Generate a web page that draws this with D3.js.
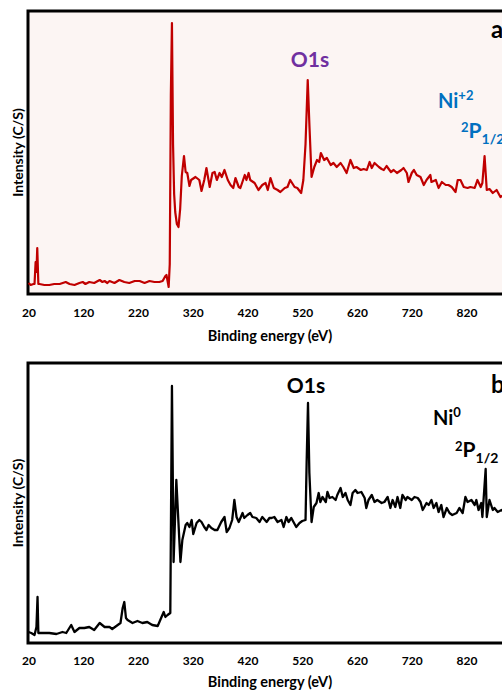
<!DOCTYPE html>
<html>
<head>
<meta charset="utf-8">
<script src="https://cdn.jsdelivr.net/npm/d3@7"></script>
<style>
  html, body { margin: 0; padding: 0; background: #ffffff; }
  svg { display: block; }
</style>
</head>
<body>
<script>
// ---------------- DATA ----------------
const tickValues = [20, 120, 220, 320, 420, 520, 620, 720, 820];
const tickLabels = ["20", "120", "220", "320", "420", "520", "620", "720", "820"];

// Panel a (Ni+2 sample) — binding energy (eV) and intensity (arb. C/S units)
const energyA = [20,24,29,31,33,34.5,36,38,40,49,58,67,77,88,95,104,113,119,124,131,140,150,155,159,164,168,177,186,195,204,214,223,232,241,250,259,265,270,272,276,278,280,282,284,286,288,291,294,297,300,304,307,310,314,317,325,332,336,341,345,351,356,360,364,369,373,378,384,389,394,398,404,407,415,418,422,425,433,440,447,453,457,462,468,475,480,488,493,498,506,511,518,522,526,530,533,537,542,547,551,554,560,565,572,577,583,590,595,601,608,614,619,627,632,638,643,647,652,660,665,669,674,682,687,693,701,705,711,714,720,724,729,736,742,747,754,756,764,769,775,782,787,793,800,804,809,815,822,827,835,840,846,849,853,857,862,868,875,882,888];
const intensityA = [11,9,10,10,32,22,46,10,10,9,9,10,10,12,10,9,11,12,10,12,11,14,12,13,11,13,11,14,12,11,13,13,11,13,12,12,13,18,19,7,30,200,271,150,100,82,70,67,85,118,138,122,121,108,114,117,114,103,114,126,107,121,122,114,121,117,124,114,109,106,116,107,106,119,114,121,114,111,104,109,111,104,116,106,104,102,106,107,114,107,106,101,114,150,214,170,117,127,134,132,141,134,136,129,131,127,131,127,121,134,126,127,124,125,124,132,126,131,127,125,124,128,122,124,121,124,126,121,112,121,124,119,117,109,114,119,112,114,106,112,109,109,107,102,114,114,107,106,107,106,114,107,111,138,104,105,101,104,97,99];

// Panel b (Ni0 sample)
const energyB = [20,25,31,34.5,36.5,38,46,58,71,82,89,98,104,113,122,131,140,150,159,168,173,183,188,192,195,198,201,210,219,228,237,246,256,263,267,270,274,279,282,285,290,297.5,301,307,310,314,318,321,327,332,336,341,345,349,354,360,365,372,378,382,387,392,396,400,404,411,414,420,425,429,436,442,447,455,460,464,469,475,482,486,491,495,500,504,509,515,520,526,528,530.5,533,537,541,546,550,553,557,563,566,570,575,581,584,590,594,599,603,608,612,617,621,628,634,637,641,647,652,657,665,670,676,681,685,690,694,699,703,709,712,720,725,731,736,740,747,751,756,760,765,769,774,778,784,789,794,802,807,813,818,822,829,835,838,842,847,849,852,855,857,862,868,871,877,884,890];
const intensityB = [11,10,8,16,46,10,10,10,9,11,10,18,11,15,15,16,13,20,16,16,14,18,20,35,41,25,23,20,22,20,21,18,17,26,31,26,28,30,257,81,163,81,103,118,120,116,123,109,120,123,121,116,113,118,115,113,113,121,126,111,115,123,143,126,121,130,125,128,130,126,125,121,126,121,125,125,126,121,123,116,126,121,125,121,116,120,122,123,180,240,170,121,136,140,150,141,146,141,151,145,146,143,148,155,146,150,143,138,150,153,150,151,145,135,143,148,141,143,140,141,146,135,143,136,146,135,148,143,146,143,146,145,141,133,140,138,143,135,140,131,138,126,135,130,128,130,135,130,146,141,143,138,143,133,140,126,150,174,126,143,133,135,131,133,130];

const xTitle = "Binding energy (eV)";
const yTitle = "Intensity (C/S)";

// ---------------- DRAW ----------------
const W = 502, H = 693;
const FONT = "Lato, 'Open Sans', 'DejaVu Sans', sans-serif";

const svg = d3.select("body").append("svg")
  .attr("width", W).attr("height", H)
  .style("font-family", FONT);

const x = d3.scaleLinear().domain([20, 1020]).range([28.5, 28.5 + 1000 * 0.5475]);

function panel(cfg) {
  const g = svg.append("g");
  const y = d3.scaleLinear().domain([0, cfg.ymax]).range([cfg.bottom, cfg.top]);

  // plot frame & background
  g.append("rect")
    .attr("x", 28).attr("y", cfg.top)
    .attr("width", 640).attr("height", cfg.bottom - cfg.top)
    .attr("fill", cfg.bg).attr("stroke", "#000").attr("stroke-width", 3);

  const data = cfg.energy.map((e, i) => [e, cfg.intensity[i]]);
  const line = d3.line().x(d => x(d[0])).y(d => y(d[1]));
  g.append("path").datum(data)
    .attr("d", line)
    .attr("fill", "none")
    .attr("stroke", cfg.color)
    .attr("stroke-width", cfg.lw)
    .attr("stroke-linejoin", "round");

  // x axis labels
  const axis = d3.axisBottom(x).tickValues(tickValues)
    .tickFormat((d, i) => tickLabels[i]).tickSize(0).tickPadding(cfg.pad);
  const ax = g.append("g").attr("transform", `translate(0,${cfg.bottom})`).call(axis);
  ax.select(".domain").remove();
  ax.selectAll("text")
    .style("font-family", FONT).style("font-size", "12px")
    .style("font-weight", "700").attr("fill", "#000");

  // axis titles
  g.append("text").attr("x", 270).attr("y", cfg.xTitleY)
    .attr("text-anchor", "middle").style("font-size", "14.5px").style("font-weight", "700")
    .text(xTitle);
  g.append("text")
    .attr("transform", `translate(23,${(cfg.top + cfg.bottom) / 2}) rotate(-90)`)
    .attr("text-anchor", "middle").style("font-size", "14px").style("font-weight", "700")
    .text(yTitle);

  // annotations
  g.append("text").attr("x", cfg.o1s[0]).attr("y", cfg.o1s[1])
    .attr("text-anchor", "middle").attr("fill", cfg.o1sColor)
    .style("font-size", "21px").style("font-weight", "700").text("O1s");

  const ni = g.append("text").attr("x", cfg.ni[0]).attr("y", cfg.ni[1])
    .attr("fill", cfg.niColor).style("font-size", "20px").style("font-weight", "700");
  ni.append("tspan").text("Ni");
  ni.append("tspan").attr("dy", -8).style("font-size", "13px").text(cfg.niSup);

  const p = g.append("text").attr("x", cfg.p[0]).attr("y", cfg.p[1] - 6)
    .attr("fill", cfg.niColor).style("font-weight", "700");
  p.append("tspan").style("font-size", "13px").text("2");
  p.append("tspan").attr("dy", 6).style("font-size", "21px").text("P");
  p.append("tspan").attr("dy", 6).style("font-size", "14px").text("1/2");

  g.append("text").attr("x", 491).attr("y", cfg.letterY)
    .style("font-size", "24px").style("font-weight", "700").text(cfg.letter);
}

panel({
  top: 11, bottom: 294, ymax: 283, bg: "#fcf5f3", color: "#c00000", lw: 2.2,
  energy: energyA, intensity: intensityA, pad: 14, xTitleY: 341,
  o1s: [310, 67], o1sColor: "#7030a0",
  ni: [438, 108], niSup: "+2", p: [461, 138], niColor: "#0070c0",
  letter: "a", letterY: 38
});

panel({
  top: 363, bottom: 643, ymax: 280, bg: "#ffffff", color: "#000000", lw: 2.3,
  energy: energyB, intensity: intensityB, pad: 13, xTitleY: 687,
  o1s: [306, 393], o1sColor: "#000000",
  ni: [433, 425], niSup: "0", p: [455, 457], niColor: "#000000",
  letter: "b", letterY: 393
});
</script>
</body>
</html>
